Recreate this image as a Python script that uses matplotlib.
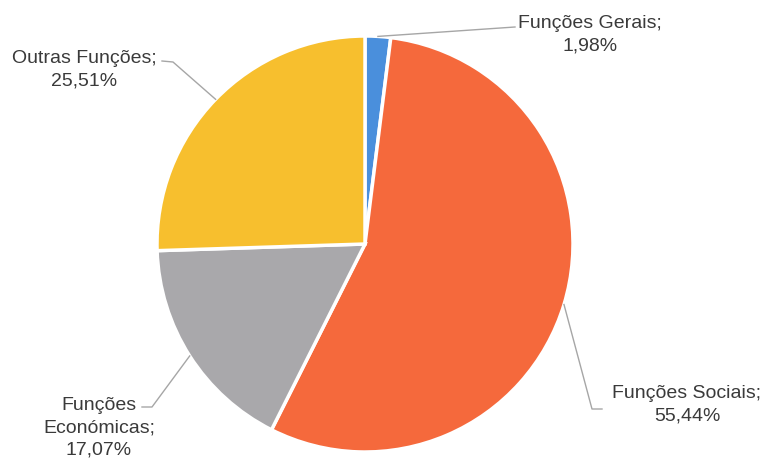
import numpy as np
import matplotlib.pyplot as plt
from matplotlib import font_manager

# data
labels = ["Funções Gerais", "Funções Sociais", "Funções Económicas", "Outras Funções"]
shares = [1.98, 55.44, 17.07, 25.51]
colors = ["#4a8fdc", "#f5693c", "#a9a8ab", "#f7bf2e"]
label_texts = ["Funções Gerais;\n1,98%", "Funções Sociais;\n55,44%",
               "Funções\nEconómicas;\n17,07%", "Outras Funções;\n25,51%"]

names = {f.name for f in font_manager.fontManager.ttflist}
family = "Liberation Sans Narrow" if "Liberation Sans Narrow" in names else "Liberation Sans"
plt.rcParams["font.family"] = [family, "DejaVu Sans"]

W, H = 764, 464
fig = plt.figure(figsize=(W / 100, H / 100), dpi=100)
ax = fig.add_axes([0, 0, 1, 1])

cx, cy, r = 365, H - 245, 208
wedges, _ = ax.pie(shares, colors=colors, startangle=90, counterclock=False,
                   center=(cx, cy), radius=r, frame=True,
                   wedgeprops=dict(edgecolor="white", linewidth=2.5))
ax.set_xlim(0, W)
ax.set_ylim(0, H)
ax.set_aspect("equal")
ax.axis("off")

# label layout: (elbow point, line end point, text center) in pixels from top-left
layout = [
    (None, (515, 28), (590, 35)),
    ((592, 410), (602, 410), (687, 405)),
    ((152, 408), (142, 408), (99, 428)),
    ((173, 63), (162, 62), (84, 70)),
]

for w, txt, (elbow, end, tpos) in zip(wedges, label_texts, layout):
    ang = np.deg2rad((w.theta1 + w.theta2) / 2)
    start = (cx + r * np.cos(ang), cy + r * np.sin(ang))
    pts = [start]
    if elbow is not None:
        pts.append((elbow[0], H - elbow[1]))
    pts.append((end[0], H - end[1]))
    xs, ys = zip(*pts)
    ax.plot(xs, ys, color="#a6a6a6", lw=1.0)
    ax.text(tpos[0], H - tpos[1], txt, ha="center", va="center",
            fontsize=14, color="#3a3a3a", linespacing=1.4)

fig.savefig("out.png", dpi=100, facecolor="white")
